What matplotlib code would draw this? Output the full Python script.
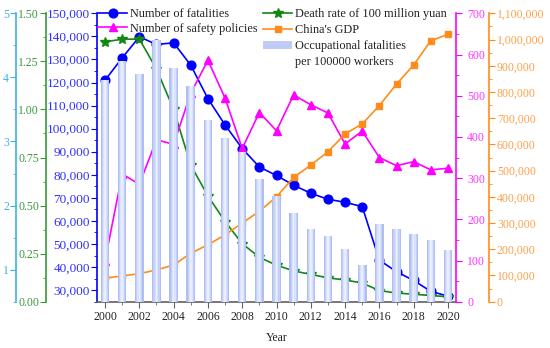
import matplotlib
matplotlib.use('Agg')
import matplotlib.pyplot as plt
from matplotlib.lines import Line2D
from matplotlib.patches import Rectangle
from matplotlib.ticker import MultipleLocator, FuncFormatter

plt.rcParams['font.family'] = ['Liberation Serif', 'DejaVu Serif']

years = list(range(2000, 2021))
fatalities = [121000, 130700, 139800, 136500, 137200, 127500, 113000, 101600, 91400, 83400,
              79700, 75500, 72000, 69400, 68100, 66200, 43000, 38000, 34200, 29500, 27400]
policies = [100, 310, 285, 393, 382, 506, 586, 494, 372, 459, 415,
            502, 478, 458, 383, 414, 350, 330, 340, 320, 324]
death_rate = [1.352, 1.365, 1.366, 1.21, 1.00, 0.71, 0.55, 0.417, 0.302, 0.231, 0.19,
              0.16, 0.142, 0.124, 0.113, 0.097, 0.058, 0.045, 0.039, 0.032, 0.026]
gdp = [90000, 98000, 107000, 121000, 140000, 185000, 217000, 255000, 300000, 345000, 400000,
       474000, 521000, 572000, 640000, 678000, 748000, 830000, 903000, 995000, 1020000]
occ_rate = [3.96, 4.25, 4.06, 4.59, 4.14, 3.86, 3.33, 3.06, 2.83, 2.41, 2.15,
            1.88, 1.64, 1.52, 1.33, 1.07, 1.71, 1.64, 1.55, 1.47, 1.30]

BLUE = '#0000ff'
BLUE_T = '#3030ff'
MAG = '#ff00ff'
MAG_T = '#ff33ff'
GREEN = '#118811'
GREEN_T = '#3a9a3a'
ORANGE = '#ff8c1a'
ORANGE_T = '#ffa04a'
CYAN = '#3cb0ec'
AXGRAY = '#606060'

W, H = 550, 348
fig = plt.figure(figsize=(W / 100, H / 100), dpi=100)
L, R, T, B = 97, 456, 13.3, 301.7
ax = fig.add_axes([L / W, 1 - B / H, (R - L) / W, (B - T) / H])

def px2ax(x):
    return (x - L) / (R - L)

FS = 8.5

# main (blue) axis
ax.plot(years, fatalities, color=BLUE, lw=1.2, marker='o', ms=6.3, zorder=3)
ax.set_ylim(25000, 150000)
ax.set_xlim(1999.53, 2020.47)
ax.yaxis.set_major_locator(MultipleLocator(10000))
ax.yaxis.set_minor_locator(MultipleLocator(5000))
ax.yaxis.set_major_formatter(FuncFormatter(lambda v, p: f'{v:,.0f}'))
ax.xaxis.set_major_locator(MultipleLocator(2))
ax.xaxis.set_minor_locator(MultipleLocator(1))
for s in ['top', 'right']:
    ax.spines[s].set_visible(False)
ax.spines['left'].set_color(BLUE)
ax.spines['left'].set_linewidth(1.2)
ax.spines['bottom'].set_color(AXGRAY)
ax.spines['bottom'].set_linewidth(1.2)
ax.tick_params(axis='y', which='both', colors=BLUE, labelcolor=BLUE_T, labelsize=9.5, pad=1)
ax.tick_params(axis='y', which='major', length=4)
ax.tick_params(axis='y', which='minor', length=2.5)
ax.tick_params(axis='x', which='both', colors=AXGRAY, labelcolor='#222222', labelsize=FS, pad=3)
ax.tick_params(axis='x', which='major', length=4)
ax.tick_params(axis='x', which='minor', length=2.5)
ax.set_xlabel('Year', fontsize=FS, color='#222222', labelpad=6)

def setup_twin(axx, side, pos, color, tcolor, pad):
    for s in axx.spines.values():
        s.set_visible(False)
    axx.spines[side].set_visible(True)
    axx.spines[side].set_position(('axes', pos))
    axx.spines[side].set_color(color)
    axx.spines[side].set_linewidth(1.2)
    axx.yaxis.set_ticks_position(side)
    axx.yaxis.set_label_position(side)
    axx.tick_params(axis='y', which='both', colors=color, labelcolor=tcolor, labelsize=FS, pad=pad)
    axx.tick_params(axis='y', which='major', length=4)
    axx.tick_params(axis='y', which='minor', length=2.5)

# green axis
ax_g = ax.twinx()
setup_twin(ax_g, 'left', px2ax(46), GREEN_T, GREEN_T, 1)
ax_g.plot(years, death_rate, color=GREEN, lw=1.2, marker='*', ms=7, zorder=3)
ax_g.set_ylim(0, 1.5)
ax_g.yaxis.set_major_locator(MultipleLocator(0.25))
ax_g.yaxis.set_minor_locator(MultipleLocator(0.125))
ax_g.yaxis.set_major_formatter(FuncFormatter(lambda v, p: f'{v:.2f}'))

# magenta axis
ax_m = ax.twinx()
setup_twin(ax_m, 'right', 1.0, MAG, MAG_T, 4)
ax_m.plot(years, policies, color=MAG, lw=1.2, marker='^', ms=6.3, zorder=3)
ax_m.set_ylim(0, 700)
ax_m.yaxis.set_major_locator(MultipleLocator(100))
ax_m.yaxis.set_minor_locator(MultipleLocator(50))
ax_m.yaxis.set_major_formatter(FuncFormatter(lambda v, p: f'{v:.0f}'))

# orange axis
ax_o = ax.twinx()
setup_twin(ax_o, 'right', px2ax(489.3), ORANGE, ORANGE_T, 1.5)
ax_o.plot(years, gdp, color=ORANGE, lw=1.2, marker='s', ms=5, zorder=3)
ax_o.set_ylim(0, 1100000)
ax_o.yaxis.set_major_locator(MultipleLocator(100000))
ax_o.yaxis.set_minor_locator(MultipleLocator(50000))
ax_o.yaxis.set_major_formatter(FuncFormatter(lambda v, p: f'{v:,.0f}'))

# cyan axis with bars (on top)
ax_c = ax.twinx()
setup_twin(ax_c, 'left', px2ax(16), CYAN, CYAN, 1)
layers = [(0.50, '#b0bff3'), (0.36, '#c4d0f7'), (0.22, '#dbe3fb'), (0.09, '#e8eefd')]
for w, c in layers:
    ax_c.bar(years, occ_rate, width=w, color=c, linewidth=0, zorder=2)
ax_c.set_ylim(0.5, 5)
ax_c.yaxis.set_major_locator(MultipleLocator(1))
ax_c.yaxis.set_minor_locator(MultipleLocator(0.5))
ax_c.yaxis.set_major_formatter(FuncFormatter(lambda v, p: f'{v:.0f}'))

# legends
h_fat = Line2D([], [], color=BLUE, lw=1.2, marker='o', ms=6.3)
h_pol = Line2D([], [], color=MAG, lw=1.2, marker='^', ms=6.3)
h_dr = Line2D([], [], color=GREEN, lw=1.2, marker='*', ms=7)
h_gdp = Line2D([], [], color=ORANGE, lw=1.2, marker='s', ms=5)
h_bar = Rectangle((0, 0), 1, 1, facecolor='#c0ccf6', edgecolor='none')
h_empty = Rectangle((0, 0), 1, 1, facecolor='none', edgecolor='none')

leg1 = ax_c.legend([h_fat, h_pol], ['Number of fatalities', 'Number of safety policies'],
                   loc='upper left', bbox_to_anchor=(px2ax(98), 1.018), frameon=False,
                   fontsize=8.8, borderpad=0, borderaxespad=0, handlelength=2.4,
                   handletextpad=0.25, labelspacing=0.2)
ax_c.add_artist(leg1)
leg2 = ax_c.legend([h_dr, h_gdp, h_bar, h_empty],
                   ['Death rate of 100 million yuan', "China's GDP", 'Occupational fatalities',
                    'per 100000 workers'],
                   loc='upper left', bbox_to_anchor=(px2ax(263), 1.018), frameon=False,
                   fontsize=8.8, borderpad=0, borderaxespad=0, handlelength=2.4,
                   handletextpad=0.25, labelspacing=0.33)
for t in list(leg1.get_texts()) + list(leg2.get_texts()):
    t.set_color('#222222')

fig.savefig('out.png', dpi=100)
